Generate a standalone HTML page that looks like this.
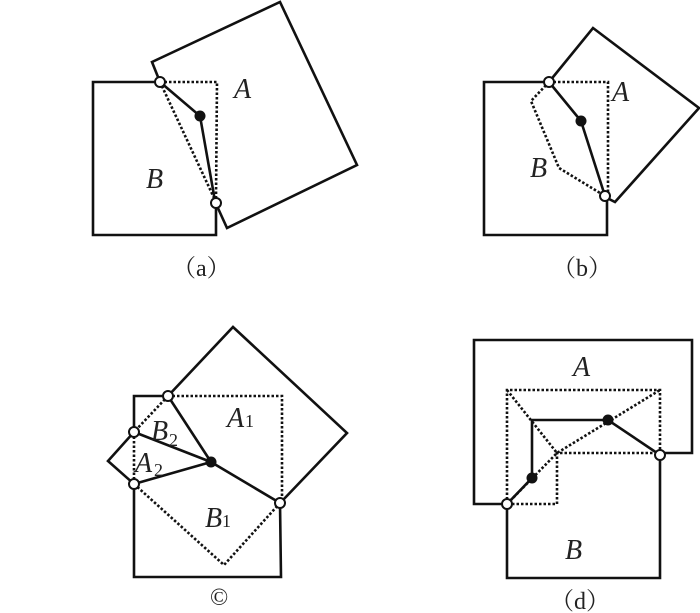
<!DOCTYPE html>
<html><head><meta charset="utf-8"><style>
html,body{margin:0;padding:0;background:#fff;}
svg{display:block}
text{font-family:"Liberation Serif","Noto Serif CJK SC",serif;fill:#222}
.it{font-style:italic;font-size:28px}
.sub{font-size:18px}
.cap{font-size:24px}
.s{fill:none;stroke:#111;stroke-width:2.6;stroke-linejoin:miter}
.d{fill:none;stroke:#111;stroke-width:2.6;stroke-dasharray:2.5 2}
.o{fill:#fff;stroke:#111;stroke-width:2}
.f{fill:#111}
</style></head><body>
<svg width="700" height="613" viewBox="0 0 700 613" xmlns="http://www.w3.org/2000/svg">
<!-- (a) -->
<polyline class="s" points="160,82 93,82 93,235 216,235 216,203"/>
<polyline class="s" points="160,82 152,62 280,2 357,165 227,228 217,206"/>
<polyline class="d" points="160,82 217,82 216,198"/>
<line class="d" x1="160" y1="82" x2="215" y2="200"/>
<polyline class="s" points="160,82 200,116 215,201"/>
<circle class="f" cx="200" cy="116" r="5.5"/>
<circle class="o" cx="160" cy="82" r="5"/>
<circle class="o" cx="216" cy="203" r="5"/>
<text class="it" x="234" y="98">A</text>
<text class="it" x="146" y="188">B</text>
<text class="cap" x="172" y="276">（a）</text>
<!-- (b) -->
<polyline class="s" points="549,82 484,82 484,235 607,235 607,198"/>
<polyline class="s" points="549,82 593,28 699,108 615,202 607,198"/>
<polyline class="d" points="549,82 608,82 608,195"/>
<polyline class="d" points="549,82 531,101 559,168 605,196"/>
<polyline class="s" points="549,82 581,121 605,196"/>
<circle class="f" cx="581" cy="121" r="5.5"/>
<circle class="o" cx="549" cy="82" r="5"/>
<circle class="o" cx="605" cy="196" r="5"/>
<text class="it" x="612" y="101">A</text>
<text class="it" x="530" y="177">B</text>
<text class="cap" x="552" y="276">（b）</text>
<!-- (c) -->
<polyline class="s" points="168,396 134,396 134,432"/>
<polyline class="s" points="134,484 134,577 281,577 280,503"/>
<polyline class="s" points="168,396 233,327 347,433 283,500"/>
<polyline class="s" points="134,432 108,461 134,484"/>
<polyline class="d" points="168,396 282,396 282,500"/>
<polyline class="d" points="134,484 224,565 280,503"/>
<line class="d" x1="168" y1="396" x2="134" y2="432"/>
<line class="d" x1="134" y1="432" x2="134" y2="484"/>
<polyline class="s" points="168,396 211,462 280,503"/>
<line class="s" x1="134" y1="432" x2="211" y2="462"/>
<line class="s" x1="134" y1="484" x2="211" y2="462"/>
<circle class="f" cx="211" cy="462" r="5.5"/>
<circle class="o" cx="168" cy="396" r="5"/>
<circle class="o" cx="134" cy="432" r="5"/>
<circle class="o" cx="134" cy="484" r="5"/>
<circle class="o" cx="280" cy="503" r="5"/>
<text class="it" x="151" y="440">B</text><text class="sub" x="169" y="446">2</text>
<text class="it" x="227" y="427">A</text><text class="sub" x="245" y="427">1</text>
<text class="it" x="135" y="472">A</text><text class="sub" x="154" y="476">2</text>
<text class="it" x="205" y="527">B</text><text class="sub" x="222" y="527">1</text>
<text class="cap" x="210" y="605">©</text>
<!-- (d) -->
<polyline class="s" points="507,504 474,504 474,340 692,340 692,453 660,453"/>
<polyline class="s" points="507,504 507,578 660,578 660,455"/>
<polyline class="d" points="507,504 507,390 660,390 660,453 557,453 557,504 507,504"/>
<polyline class="d" points="507,390 557,453 660,390"/>
<line class="d" x1="507" y1="504" x2="557" y2="453"/>
<polyline class="s" points="507,504 532,478 532,420 608,420 660,455"/>
<circle class="f" cx="532" cy="478" r="5.5"/>
<circle class="f" cx="608" cy="420" r="5.5"/>
<circle class="o" cx="507" cy="504" r="5"/>
<circle class="o" cx="660" cy="455" r="5"/>
<text class="it" x="573" y="376">A</text>
<text class="it" x="565" y="559">B</text>
<text class="cap" x="550" y="609">（d）</text>
</svg>
</body></html>
